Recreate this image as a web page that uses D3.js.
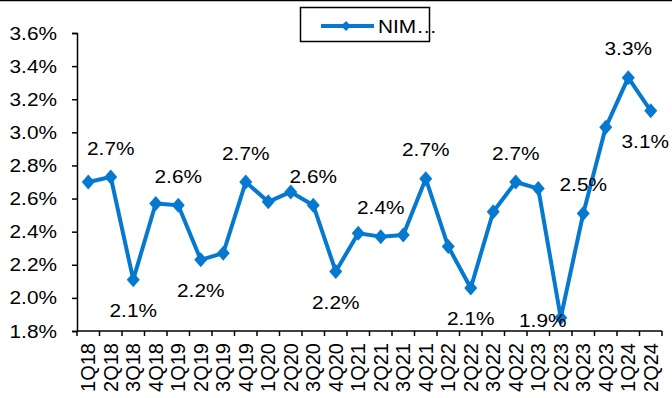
<!DOCTYPE html>
<html><head><meta charset="utf-8">
<script src="https://cdn.jsdelivr.net/npm/d3@7"></script>
<style>html,body{margin:0;padding:0;background:#fff;}svg{display:block;}</style>
</head><body>
<svg id="c" width="672" height="398"></svg>
<script>
const categories = ["1Q18","2Q18","3Q18","4Q18","1Q19","2Q19","3Q19","4Q19","1Q20","2Q20","3Q20","4Q20","1Q21","2Q21","3Q21","4Q21","1Q22","2Q22","3Q22","4Q22","1Q23","2Q23","3Q23","4Q23","1Q24","2Q24"];
const nim = [2.70,2.73,2.11,2.57,2.56,2.23,2.27,2.70,2.58,2.64,2.56,2.16,2.39,2.37,2.38,2.72,2.31,2.06,2.52,2.70,2.66,1.88,2.51,3.03,3.33,3.13];
const labelPos = ["","above","below","","above","below","","above","","","above","below","","above","","above","","below","","above","","below","above","","above","below"];
const yTicks = [1.8,2.0,2.2,2.4,2.6,2.8,3.0,3.2,3.4,3.6];
const seriesName = "NIM…";

const color = "#0579CF";
const font = "'Liberation Sans', Arial, sans-serif";
const sx = 1.12;
const svg = d3.select("#c");
const x = d3.scaleBand().domain(categories).range([77, 662]);
const y = d3.scaleLinear().domain([1.8, 3.6]).range([331, 33]);

// top border
svg.append("line").attr("x1",0).attr("x2",672).attr("y1",0.5).attr("y2",0.5).attr("stroke","#000").attr("stroke-width",1.5);

// y axis
const ya = svg.append("g").attr("transform","translate(77,0)")
  .call(d3.axisLeft(y).tickValues(yTicks).tickSize(5).tickFormat(""));
ya.select(".domain").attr("stroke","#000").attr("stroke-width",1.5);
ya.selectAll(".tick line").attr("stroke","#000").attr("stroke-width",1.5);
yTicks.forEach(t => {
  svg.append("text").attr("transform",`translate(57,${y(t)}) scale(${sx},1)`)
    .attr("text-anchor","end").attr("dy","0.35em")
    .style("font-family",font).style("font-size","18.6px").attr("fill","#000")
    .text(d3.format(".1f")(t)+"%");
});

// x axis
const xa = svg.append("g").attr("transform","translate(0,331)");
xa.append("line").attr("x1",77).attr("x2",662).attr("stroke","#000").attr("stroke-width",1.5);
const bounds = categories.map(c => x(c)).concat([x.range()[1]]);
xa.selectAll("line.tk").data(bounds).enter().append("line").attr("class","tk")
  .attr("x1",d=>d).attr("x2",d=>d).attr("y1",0).attr("y2",5).attr("stroke","#000").attr("stroke-width",1.5);
svg.selectAll("text.xl").data(categories).enter().append("text").attr("class","xl")
  .attr("transform",d=>`translate(${x(d)+x.bandwidth()/2+7},343) rotate(-90)`)
  .attr("text-anchor","end")
  .style("font-family",font).style("font-size","20px").attr("fill","#000")
  .text(d=>d);

// line
const pts = categories.map((c,i)=>({c, v:nim[i], p:labelPos[i], px:x(c)+x.bandwidth()/2, py:y(nim[i])}));
svg.append("path").datum(pts)
  .attr("d", d3.line().x(d=>d.px).y(d=>d.py))
  .attr("fill","none").attr("stroke",color).attr("stroke-width",4).attr("stroke-linejoin","round");
const diamond = "M0,-7.5L6.5,0L0,7.5L-6.5,0Z";
svg.selectAll("path.mk").data(pts).enter().append("path").attr("class","mk")
  .attr("transform",d=>`translate(${d.px},${d.py})`).attr("d",diamond).attr("fill",color);

// data labels
pts.filter(d=>d.p).forEach(d => {
  let cy = d.p==="above" ? d.py-29 : d.py+31;
  let cx = d.px;
  if (d.p==="below" && cy > 321) { cy = 320; cx -= 18; }
  const t = svg.append("text").attr("text-anchor","middle").attr("dy","0.35em")
    .style("font-family",font).style("font-size","18.6px").attr("fill","#000")
    .text(d3.format(".1f")(d.v)+"%");
  const w = t.node().getComputedTextLength()*sx;
  if (cx + w/2 > 669) cx = 669 - w/2;
  t.attr("transform",`translate(${cx},${cy}) scale(${sx},1)`);
});

// legend
svg.append("rect").attr("x",300.5).attr("y",7.5).attr("width",129).attr("height",34)
  .attr("fill","#fff").attr("stroke","#000").attr("stroke-width",1.5);
svg.append("line").attr("x1",321).attr("x2",374).attr("y1",26).attr("y2",26).attr("stroke",color).attr("stroke-width",4);
svg.append("path").attr("transform","translate(346,26)").attr("d","M0,-5L5,0L0,5L-5,0Z").attr("fill",color);
svg.append("text").attr("transform",`translate(378,26) scale(${sx},1)`).attr("dy","0.35em")
  .style("font-family",font).style("font-size","18.6px").attr("fill","#000").text(seriesName);
</script>
</body></html>
